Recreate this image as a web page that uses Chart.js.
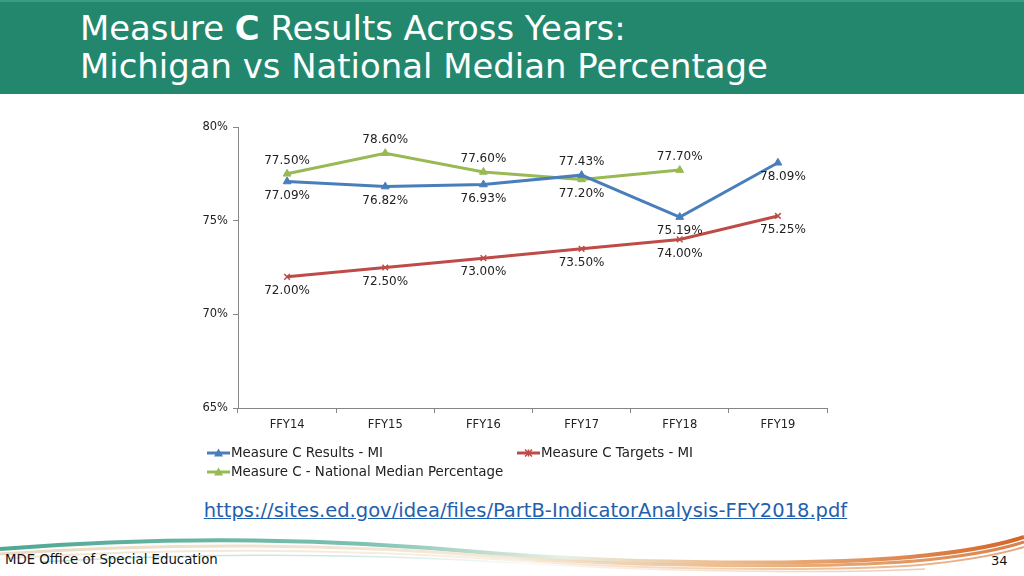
<!DOCTYPE html>
<html>
<head>
<meta charset="utf-8">
<script src="https://cdn.jsdelivr.net/npm/chart.js@4"></script>
<style>
  html, body { margin: 0; padding: 0; background: #fff; }
  body { width: 1024px; height: 576px; position: relative; overflow: hidden; font-family: "DejaVu Sans", Verdana, sans-serif; }
  #header { position: absolute; left: 0; top: 0; width: 1024px; height: 94px; background: #23876e; border-top: 2px solid #3b9c83; box-sizing: border-box; }
  #title { position: absolute; left: 80px; top: 8px; color: #fff; font-size: 33.9px; line-height: 38px; white-space: nowrap; }
  #chartBox { position: absolute; left: 190px; top: 115px; width: 650px; height: 375px; }
  #link { position: absolute; left: 0; width: 1051px; top: 499px; text-align: center; font-size: 19.5px; color: #1f5fb0; text-decoration: underline; white-space: nowrap; }
  #footer { position: absolute; left: 5px; top: 552px; font-size: 13.3px; color: #111; }
  #page { position: absolute; left: 991px; top: 553px; font-size: 13px; color: #111; }
  #swoosh { position: absolute; left: 0; top: 515px; }
</style>
</head>
<body>
<div id="header"><div id="title">Measure <b>C</b> Results Across Years:<br>Michigan vs National Median Percentage</div></div>
<div id="chartBox"><canvas id="chart" width="650" height="375"></canvas></div>
<div id="link">https://sites.ed.gov/idea/files/PartB-IndicatorAnalysis-FFY2018.pdf</div>
<svg id="swoosh" width="1024" height="61">
  <defs>
    <linearGradient id="g1" x1="0" x2="1" y1="0" y2="0">
      <stop offset="0" stop-color="#4fa894"/>
      <stop offset="0.35" stop-color="#7cc0b0"/>
      <stop offset="0.55" stop-color="#e8efe4"/>
      <stop offset="0.7" stop-color="#eebf90"/>
      <stop offset="1" stop-color="#d4652a"/>
    </linearGradient>
    <linearGradient id="g2" x1="0" x2="1" y1="0" y2="0">
      <stop offset="0" stop-color="#e6d3b6"/>
      <stop offset="0.5" stop-color="#f5e6d2"/>
      <stop offset="0.8" stop-color="#e49a58"/>
      <stop offset="1" stop-color="#d46a2c"/>
    </linearGradient>
  </defs>
  <path d="M0,34 C150,22 320,22 490,38 C640,50 820,50 910,42 C965,37 1000,30 1024,22" stroke="url(#g1)" stroke-width="4" fill="none"/>
  <path d="M0,39 C160,28 330,28 500,42 C650,53 830,53 915,46 C970,41 1002,34 1024,27" stroke="url(#g2)" stroke-width="3" fill="none" opacity="0.85"/>
  <path d="M10,43 C170,33 340,33 510,45 C660,56 840,56 920,50 C972,45 1004,38 1024,32" stroke="url(#g2)" stroke-width="2" fill="none" opacity="0.6"/>
  <path d="M40,47 C190,38 360,38 520,48 C670,58 850,58 925,54" stroke="url(#g1)" stroke-width="1.5" fill="none" opacity="0.35"/>
</svg>
<div id="footer">MDE Office of Special Education</div>
<div id="page">34</div>
<script>
// ---------------------------
// Chart data
// ---------------------------
const years = ["FFY14", "FFY15", "FFY16", "FFY17", "FFY18", "FFY19"];
const resultsMI = [77.09, 76.82, 76.93, 77.43, 75.19, 78.09];
const targetsMI = [72.00, 72.50, 73.00, 73.50, 74.00, 75.25];
const nationalMedian = [77.50, 78.60, 77.60, 77.20, 77.70, null];
const yTicks = [65, 70, 75, 80];

// where each value label sits relative to its point
const resultsLabelSide = ["below", "below", "below", "above", "below", "below"];
const targetsLabelSide = ["below", "below", "below", "below", "below", "below"];
const nationalLabelSide = ["above", "above", "above", "below", "above", "above"];

const FONT = '"DejaVu Sans", Verdana, sans-serif';

function drawMarker(ctx, style, x, y, color) {
  ctx.save();
  ctx.fillStyle = color;
  ctx.strokeStyle = color;
  if (style === "triangle") {
    const r = 4.5;
    ctx.beginPath();
    ctx.moveTo(x, y - r);
    ctx.lineTo(x + r, y + r * 0.8);
    ctx.lineTo(x - r, y + r * 0.8);
    ctx.closePath();
    ctx.fill();
  } else {
    const r = 3.5;
    ctx.lineWidth = 1.5;
    ctx.beginPath();
    ctx.moveTo(x - r, y - r); ctx.lineTo(x + r, y + r);
    ctx.moveTo(x + r, y - r); ctx.lineTo(x - r, y + r);
    ctx.moveTo(x, y - r); ctx.lineTo(x, y + r);
    ctx.stroke();
  }
  ctx.restore();
}

// ---------------------------
// Value labels + legend plugin
// ---------------------------
const labelPlugin = {
  id: "valueLabels",
  afterDatasetsDraw(chart) {
    const ctx = chart.ctx;
    ctx.save();
    ctx.font = "12px " + FONT;
    ctx.fillStyle = "#222";
    ctx.textAlign = "center";
    ctx.textBaseline = "middle";
    chart.data.datasets.forEach((ds, i) => {
      const meta = chart.getDatasetMeta(i);
      meta.data.forEach((pt, j) => {
        const v = ds.data[j];
        if (v === null || v === undefined) return;
        const dy = ds.labelSide[j] === "above" ? -13 : 14;
        const dx = j === years.length - 1 ? 5 : 0;
        ctx.fillText(v.toFixed(2) + "%", pt.x + dx, pt.y + dy);
      });
    });
    ctx.restore();
  },
  afterDraw(chart) {
    const ctx = chart.ctx;
    const items = [
      { ds: 0, x: 17, y: 338 },
      { ds: 1, x: 327, y: 338 },
      { ds: 2, x: 17, y: 357 }
    ];
    ctx.save();
    ctx.font = "13.4px " + FONT;
    ctx.textBaseline = "middle";
    ctx.textAlign = "left";
    items.forEach(it => {
      const ds = chart.data.datasets[it.ds];
      ctx.strokeStyle = ds.borderColor;
      ctx.lineWidth = 3;
      ctx.beginPath();
      ctx.moveTo(it.x, it.y);
      ctx.lineTo(it.x + 23, it.y);
      ctx.stroke();
      drawMarker(ctx, ds.markerStyle, it.x + 11.5, it.y, ds.borderColor);
      ctx.fillStyle = "#222";
      ctx.fillText(ds.label, it.x + 24, it.y + 1);
    });
    ctx.restore();
  }
};

function makeSet(label, data, color, style, sides) {
  return {
    label: label,
    data: data,
    borderColor: color,
    backgroundColor: color,
    borderWidth: 3,
    pointStyle: style,
    pointRadius: style === "triangle" ? 4.5 : 4,
    pointBorderWidth: style === "triangle" ? 1 : 1.5,
    pointBackgroundColor: color,
    pointBorderColor: color,
    tension: 0,
    markerStyle: style,
    labelSide: sides,
    spanGaps: false
  };
}

new Chart(document.getElementById("chart"), {
  type: "line",
  data: {
    labels: years,
    datasets: [
      makeSet("Measure C Results - MI", resultsMI, "#4a7ebb", "triangle", resultsLabelSide),
      makeSet("Measure C Targets - MI", targetsMI, "#be4b48", "crossRot", targetsLabelSide),
      makeSet("Measure C - National Median Percentage", nationalMedian, "#98b954", "triangle", nationalLabelSide)
    ]
  },
  options: {
    responsive: false,
    animation: false,
    layout: { padding: { top: 12, right: 13, bottom: 50, left: 0 } },
    plugins: { legend: { display: false }, tooltip: { enabled: false } },
    scales: {
      x: {
        offset: true,
        grid: { offset: true, drawOnChartArea: false, tickLength: 5, color: "#868686" },
        border: { color: "#868686" },
        ticks: { font: { family: FONT, size: 11.5 }, color: "#222", padding: 5 },
        afterFit(s) { s.height = 32; }
      },
      y: {
        min: 65,
        max: 80,
        afterBuildTicks(s) { s.ticks = yTicks.map(v => ({ value: v })); },
        grid: { drawOnChartArea: false, tickLength: 5, color: "#868686" },
        border: { color: "#868686" },
        ticks: { font: { family: FONT, size: 11.5 }, color: "#222", padding: 5, callback: v => v + "%" },
        afterFit(s) { s.width = 48; }
      }
    }
  },
  plugins: [labelPlugin]
});
</script>
</body>
</html>
